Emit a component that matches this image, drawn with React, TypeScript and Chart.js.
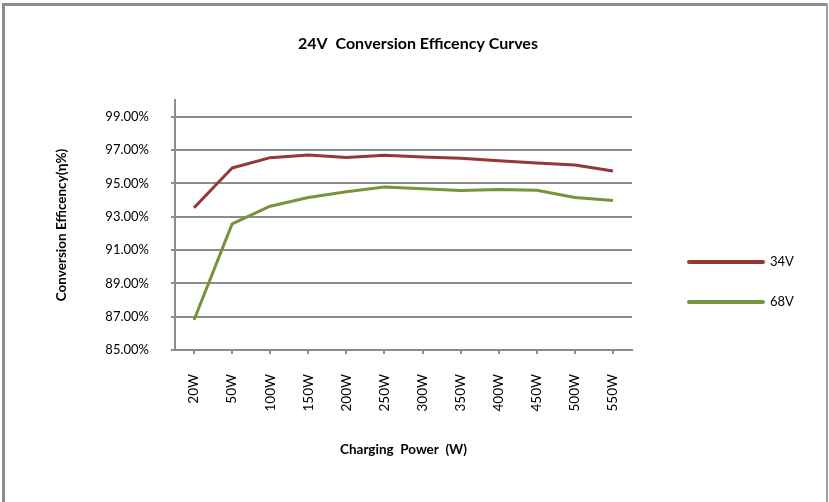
import { useEffect, useRef } from "react";
import { Chart, registerables } from "chart.js";

Chart.register(...registerables);

const categories = ["20W", "50W", "100W", "150W", "200W", "250W", "300W", "350W", "400W", "450W", "500W", "550W"];
const series34V = [93.53, 95.92, 96.54, 96.7, 96.55, 96.68, 96.58, 96.5, 96.36, 96.22, 96.1, 95.74];
const series68V = [86.8, 92.57, 93.63, 94.15, 94.5, 94.78, 94.68, 94.57, 94.63, 94.58, 94.15, 93.97];
const yTicks = [85, 87, 89, 91, 93, 95, 97, 99];
const seriesLabels = ["34V", "68V"];

const FONT = "Lato, 'Liberation Sans', sans-serif";
const GRID = "#8c8c8c";
const RED = "#953735";
const GREEN = "#77933c";

const framePlugin = {
  id: "frame",
  beforeDraw(chart: any) {
    const { ctx, width, height } = chart;
    ctx.save();
    ctx.fillStyle = "#ffffff";
    ctx.fillRect(0, 0, width, height);
    ctx.fillStyle = "#8c8c8c";
    ctx.fillRect(2, 3, 3, height - 3);
    ctx.fillRect(2, 3, width - 4, 3);
    ctx.fillStyle = "#a0a0a0";
    ctx.fillRect(width - 3, 3, 2, height - 3);
    ctx.restore();
  },
  afterDraw(chart: any) {
    const { ctx, chartArea } = chart;
    ctx.save();
    ctx.fillStyle = "#000";
    ctx.font = `bold 16px ${FONT}`;
    ctx.textAlign = "center";
    ctx.textBaseline = "middle";
    ctx.fillText("24V  Conversion Efficency Curves", 418, 44);
    const x0 = chartArea.right + 57;
    chart.data.datasets.forEach((ds: any, i: number) => {
      const y = 262 + i * 40;
      ctx.strokeStyle = ds.borderColor;
      ctx.lineWidth = 4;
      ctx.lineCap = "round";
      ctx.beginPath();
      ctx.moveTo(x0, y);
      ctx.lineTo(x0 + 74, y);
      ctx.stroke();
      ctx.fillStyle = "#000";
      ctx.font = `13px ${FONT}`;
      ctx.textAlign = "left";
      ctx.fillText(ds.label, x0 + 81, y);
    });
    ctx.restore();
  },
};

export default function App() {
  const ref = useRef<HTMLCanvasElement | null>(null);
  useEffect(() => {
    document.body.style.margin = "0";
    if (!ref.current) return;
    const chart = new Chart(ref.current, {
      type: "line",
      data: {
        labels: categories,
        datasets: [
          {
            label: seriesLabels[0],
            data: series34V,
            borderColor: RED,
            backgroundColor: RED,
            borderWidth: 3,
            pointRadius: 0,
            tension: 0,
            borderJoinStyle: "round",
          },
          {
            label: seriesLabels[1],
            data: series68V,
            borderColor: GREEN,
            backgroundColor: GREEN,
            borderWidth: 3,
            pointRadius: 0,
            tension: 0,
            borderJoinStyle: "round",
          },
        ],
      },
      options: {
        responsive: false,
        animation: false,
        devicePixelRatio: 1,
        layout: { padding: { top: 100, right: 197, left: 0, bottom: 0 } },
        plugins: {
          legend: { display: false },
          title: { display: false },
          tooltip: { enabled: false },
        },
        scales: {
          x: {
            type: "category",
            offset: true,
            afterFit: (s: any) => {
              s.height = 152;
            },
            grid: { drawOnChartArea: false, offset: false, color: GRID, lineWidth: 2, tickLength: 4 },
            border: { color: GRID, width: 2 },
            ticks: {
              autoSkip: false,
              maxRotation: 90,
              minRotation: 90,
              padding: 20,
              color: "#000",
              font: { family: FONT, size: 13.5 },
            },
            title: {
              display: true,
              text: "Charging  Power  (W)",
              color: "#000",
              font: { family: FONT, size: 13.5, weight: "bold" },
              padding: { bottom: 44, top: 0 },
            },
          },
          y: {
            type: "linear",
            min: 85,
            max: 100,
            afterBuildTicks: (s: any) => {
              s.ticks = yTicks.map((v) => ({ value: v }));
            },
            afterFit: (s: any) => {
              s.width = 175;
            },
            grid: { color: GRID, lineWidth: 2, tickLength: 4 },
            border: { color: GRID, width: 2 },
            ticks: {
              padding: 22,
              color: "#000",
              font: { family: FONT, size: 13 },
              callback: (v: any) => Number(v).toFixed(2) + "%",
            },
            title: {
              display: true,
              text: "Conversion Efficency(η%)",
              color: "#000",
              font: { family: FONT, size: 13.5, weight: "bold" },
              padding: { top: 54, bottom: 0 },
            },
          },
        },
      },
      plugins: [framePlugin],
    });
    return () => chart.destroy();
  }, []);
  return <canvas ref={ref} width={829} height={502} style={{ display: "block", width: "829px", height: "502px" }} />;
}
